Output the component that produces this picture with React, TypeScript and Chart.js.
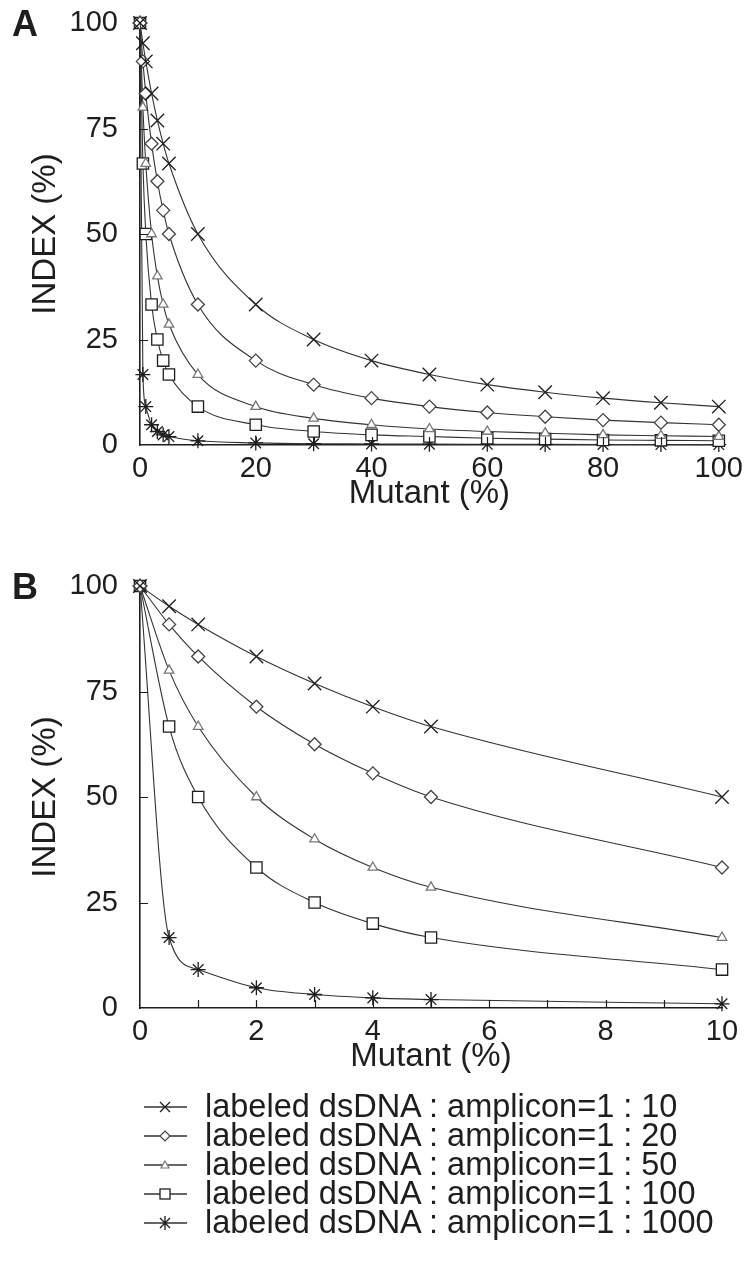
import React, { useEffect, useRef } from "react";
import { Chart, registerables } from "chart.js";

Chart.register(...registerables);

// Mutant fraction (%) at which INDEX was measured
const MUTANT_PCT = [0, 0.5, 1, 2, 3, 4, 5, 10, 20, 30, 40, 50, 60, 70, 80, 90, 100];

// INDEX (%) for each labeled dsDNA : amplicon ratio
const INDEX_1_10 = [100, 95.2, 90.9, 83.3, 76.9, 71.4, 66.7, 50, 33.3, 25, 20, 16.7, 14.3, 12.5, 11.1, 10, 9.1];
const INDEX_1_20 = [100, 90.9, 83.3, 71.4, 62.5, 55.6, 50, 33.3, 20, 14.3, 11.1, 9.1, 7.7, 6.7, 5.9, 5.3, 4.8];
const INDEX_1_50 = [100, 80, 66.7, 50, 40, 33.3, 28.6, 16.7, 9.1, 6.3, 4.8, 3.8, 3.2, 2.8, 2.4, 2.2, 2.0];
const INDEX_1_100 = [100, 66.7, 50, 33.3, 25, 20, 16.7, 9.1, 4.8, 3.2, 2.4, 2.0, 1.6, 1.4, 1.2, 1.1, 1.0];
const INDEX_1_1000 = [100, 16.7, 9.1, 4.8, 3.2, 2.4, 2.0, 1.0, 0.5, 0.3, 0.25, 0.2, 0.17, 0.14, 0.12, 0.11, 0.1];

const SERIES_LABELS = [
  "labeled dsDNA : amplicon=1 : 10",
  "labeled dsDNA : amplicon=1 : 20",
  "labeled dsDNA : amplicon=1 : 50",
  "labeled dsDNA : amplicon=1 : 100",
  "labeled dsDNA : amplicon=1 : 1000",
];
const SERIES_VALUES = [INDEX_1_10, INDEX_1_20, INDEX_1_50, INDEX_1_100, INDEX_1_1000];

// Axis ranges and tick spacing for panels A and B
const PANEL_A_X_MAX = 100;
const PANEL_A_X_STEP = 20;
const PANEL_A_X_MINOR = 10;
const PANEL_B_X_MAX = 10;
const PANEL_B_X_STEP = 2;
const PANEL_B_X_MINOR = 1;
const Y_MAX = 100;
const Y_STEP = 25;

const FONT = '"Liberation Sans", Arial, Helvetica, sans-serif';
const INK = "#1e1e1e";
const CANVAS_W = 750;
const CANVAS_H = 530;
const PLOT_TOP = 23;
const PLOT_BOTTOM = 445;

const MARKERS = [
  { style: "crossRot", radius: 9.5, color: INK, fill: "rgba(0,0,0,0)" },
  { style: "rectRot", radius: 6.5, color: "#444", fill: "#fff" },
  { style: "triangle", radius: 5.5, color: "#777", fill: "#fff" },
  { style: "rect", radius: 8, color: INK, fill: "#fff" },
  { style: "star", radius: 7.5, color: INK, fill: "rgba(0,0,0,0)" },
];

// Short tick marks drawn inward from the left and bottom axes
const innerTicks = {
  id: "innerTicks",
  afterDraw(chart: any, _args: any, opts: any) {
    const { ctx, chartArea, scales } = chart;
    const len = 8;
    ctx.save();
    ctx.strokeStyle = INK;
    ctx.lineWidth = 1.2;
    ctx.beginPath();
    const nx = Math.round((scales.x.max - scales.x.min) / opts.xStep);
    for (let i = 1; i < nx; i++) {
      const px = Math.round(scales.x.getPixelForValue(scales.x.min + i * opts.xStep)) + 0.5;
      ctx.moveTo(px, chartArea.bottom);
      ctx.lineTo(px, chartArea.bottom - len);
    }
    const ny = Math.round((scales.y.max - scales.y.min) / opts.yStep);
    for (let i = 1; i < ny; i++) {
      const py = Math.round(scales.y.getPixelForValue(scales.y.min + i * opts.yStep)) + 0.5;
      ctx.moveTo(chartArea.left, py);
      ctx.lineTo(chartArea.left + len, py);
    }
    ctx.stroke();
    ctx.restore();
  },
};

function buildConfig(xMax: number, xStep: number, xMinor: number): any {
  const datasets = SERIES_VALUES.map((vals, si) => {
    const m = MARKERS[si];
    const pts = MUTANT_PCT.map((x, i) => ({ x, y: vals[i] })).filter((p) => p.x <= xMax);
    return {
      label: SERIES_LABELS[si],
      data: pts,
      borderColor: "#333",
      borderWidth: 1.1,
      cubicInterpolationMode: "monotone",
      fill: false,
      pointStyle: m.style,
      pointRadius: m.radius,
      pointBorderColor: m.color,
      pointBackgroundColor: m.fill,
      pointBorderWidth: 1.3,
      clip: false,
    };
  });
  const xAxisHeight = CANVAS_H - PLOT_BOTTOM;
  return {
    type: "line",
    data: { datasets },
    plugins: [innerTicks],
    options: {
      animation: false,
      responsive: false,
      layout: { padding: { left: 0, top: PLOT_TOP, right: 28, bottom: 0 } },
      plugins: {
        legend: { display: false },
        tooltip: { enabled: false },
        innerTicks: { xStep: xMinor, yStep: Y_STEP },
      },
      scales: {
        x: {
          type: "linear",
          min: 0,
          max: xMax,
          grid: { display: false, drawTicks: false },
          border: { display: true, color: INK, width: 1.6 },
          ticks: {
            stepSize: xStep,
            autoSkip: false,
            maxRotation: 0,
            padding: 7,
            color: INK,
            font: { family: FONT, size: 29 },
          },
          title: {
            display: true,
            text: "Mutant (%)",
            color: INK,
            font: { family: FONT, size: 33 },
            padding: { top: 0, bottom: 16 },
          },
          afterFit(scale: any) {
            scale.height = xAxisHeight;
          },
        },
        y: {
          type: "linear",
          min: 0,
          max: Y_MAX,
          grid: { display: false, drawTicks: false },
          border: { display: true, color: INK, width: 1.6 },
          ticks: {
            stepSize: Y_STEP,
            autoSkip: false,
            padding: 22,
            color: INK,
            font: { family: FONT, size: 29 },
          },
          title: {
            display: true,
            text: "INDEX (%)",
            color: INK,
            font: { family: FONT, size: 33 },
            padding: { top: 26, bottom: 0 },
          },
          afterFit(scale: any) {
            scale.width = 140;
            scale.paddingTop = 0;
            scale.paddingBottom = 0;
          },
        },
      },
    },
  };
}

function Panel({ letter, top, xMax, xStep, xMinor }: any) {
  const ref = useRef<HTMLCanvasElement | null>(null);
  useEffect(() => {
    if (!ref.current) return;
    const chart = new Chart(ref.current, buildConfig(xMax, xStep, xMinor));
    return () => chart.destroy();
  }, [xMax, xStep, xMinor]);
  return (
    <div style={{ position: "absolute", left: 0, top, width: CANVAS_W, height: CANVAS_H }}>
      <canvas ref={ref} width={CANVAS_W} height={CANVAS_H} style={{ display: "block" }} />
      <div
        style={{
          position: "absolute",
          left: 12,
          top: 4,
          fontFamily: FONT,
          fontWeight: "bold",
          fontSize: 36,
          color: INK,
          lineHeight: "40px",
        }}
      >
        {letter}
      </div>
    </div>
  );
}

function LegendIcon({ index }: { index: number }) {
  const m = MARKERS[index];
  const cx = 22;
  const cy = 10;
  let mark: React.ReactNode = null;
  if (m.style === "crossRot") {
    const d = 5;
    mark = <path d={`M${cx - d} ${cy - d}L${cx + d} ${cy + d}M${cx - d} ${cy + d}L${cx + d} ${cy - d}`} stroke={m.color} strokeWidth={1.3} />;
  } else if (m.style === "rectRot") {
    mark = <path d={`M${cx} ${cy - 5}L${cx + 5} ${cy}L${cx} ${cy + 5}L${cx - 5} ${cy}Z`} stroke={m.color} fill="#fff" strokeWidth={1.2} />;
  } else if (m.style === "triangle") {
    mark = <path d={`M${cx} ${cy - 4}L${cx + 4} ${cy + 3}L${cx - 4} ${cy + 3}Z`} stroke={m.color} fill="#fff" strokeWidth={1.2} />;
  } else if (m.style === "rect") {
    mark = <rect x={cx - 5} y={cy - 5} width={10} height={10} stroke={m.color} fill="#fff" strokeWidth={1.3} />;
  } else {
    const d = 5;
    mark = (
      <path
        d={`M${cx - d} ${cy - d}L${cx + d} ${cy + d}M${cx - d} ${cy + d}L${cx + d} ${cy - d}M${cx} ${cy - 7}L${cx} ${cy + 7}`}
        stroke={m.color}
        strokeWidth={1.3}
      />
    );
  }
  return (
    <svg width={46} height={20} style={{ display: "block", flex: "none" }}>
      <line x1={1} y1={cy} x2={44} y2={cy} stroke="#333" strokeWidth={1.3} />
      {mark}
    </svg>
  );
}

export default function App() {
  return (
    <div style={{ position: "absolute", left: 0, top: 0, width: 750, height: 1261, background: "#fff" }}>
      <Panel letter="A" top={0} xMax={PANEL_A_X_MAX} xStep={PANEL_A_X_STEP} xMinor={PANEL_A_X_MINOR} />
      <Panel letter="B" top={563} xMax={PANEL_B_X_MAX} xStep={PANEL_B_X_STEP} xMinor={PANEL_B_X_MINOR} />
      <div style={{ position: "absolute", left: 143, top: 1092, fontFamily: FONT, fontSize: 32.5, color: INK }}>
        {SERIES_LABELS.map((label, i) => (
          <div key={label} style={{ display: "flex", alignItems: "center", height: 29, lineHeight: "29px" }}>
            <LegendIcon index={i} />
            <span style={{ marginLeft: 16, whiteSpace: "nowrap" }}>{label}</span>
          </div>
        ))}
      </div>
    </div>
  );
}
